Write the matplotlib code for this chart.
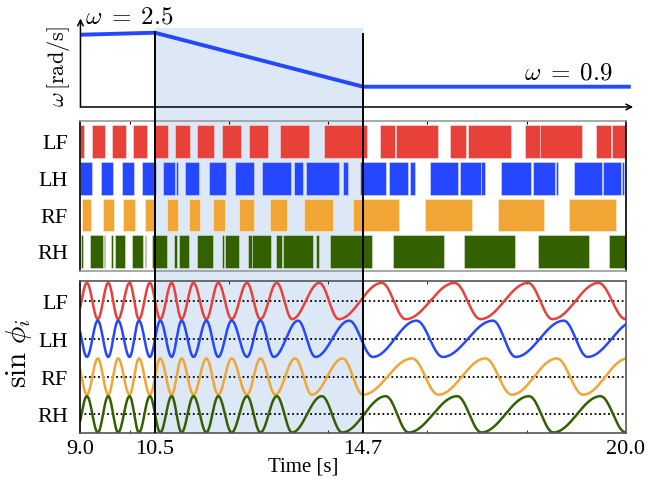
import numpy as np
import matplotlib
matplotlib.use("Agg")
import matplotlib.pyplot as plt

plt.rcParams['font.family'] = ['Liberation Serif', 'DejaVu Serif']
plt.rcParams['mathtext.fontset'] = 'cm'

# ---- data ----
omega_t = [9.0, 10.5, 14.7, 20.1]
omega_v = [2.44, 2.5, 0.9, 0.9]

legs = ['LF', 'LH', 'RF', 'RH']
colors = ['#e8413a', '#2447ff', '#f0a535', '#336100']

# stance intervals (start, end) in seconds
stance_LF = [(9.0, 9.08), (9.23, 9.49), (9.64, 9.92), (10.05, 10.34), (10.50, 10.76),
             (10.91, 11.21), (11.35, 11.70), (11.86, 12.24), (12.40, 12.79), (13.03, 13.62),
             (13.91, 14.78), (15.04, 15.34), (15.37, 16.21), (16.46, 16.78), (16.81, 17.68),
             (17.96, 18.26), (18.28, 19.11), (19.39, 19.70), (19.73, 20.0)]
stance_LH = [(9.0, 9.24), (9.41, 9.66), (9.83, 10.08), (10.25, 10.52), (10.67, 10.91),
             (10.93, 10.96), (11.11, 11.39), (11.60, 11.94), (12.11, 12.51), (12.66, 13.25),
             (13.30, 13.49), (13.54, 14.22), (14.30, 14.39), (14.63, 15.17), (15.23, 15.61),
             (15.64, 15.74), (16.05, 16.62), (16.65, 17.07), (17.08, 17.17), (17.49, 18.08),
             (18.12, 18.57), (18.59, 18.64), (18.96, 19.52), (19.54, 19.90), (19.93, 19.96)]
stance_RF = [(9.04, 9.21), (9.23, 9.24), (9.45, 9.68), (9.86, 10.10), (10.30, 10.51),
             (10.74, 10.96), (11.19, 11.41), (11.67, 11.91), (12.20, 12.51), (12.83, 13.17),
             (13.50, 14.09), (14.50, 15.43), (15.95, 16.89), (17.42, 18.36), (18.85, 19.81)]
stance_RH = [(9.01, 9.06), (9.19, 9.46), (9.47, 9.49), (9.62, 9.66), (9.70, 9.89),
             (10.03, 10.27), (10.31, 10.33), (10.44, 10.74), (10.89, 10.94), (10.98, 11.18),
             (11.35, 11.67), (11.85, 11.90), (11.92, 12.20), (12.37, 12.46), (12.47, 12.84),
             (12.95, 13.06), (13.08, 13.70), (13.76, 13.82), (14.03, 14.89), (15.31, 16.33),
             (16.73, 17.76), (18.22, 19.25), (19.66, 20.0)]
stances = [stance_LF, stance_LH, stance_RF, stance_RH]

# times of alternating extrema of sin(phi_i); first entry is a trough (-1) or peak (+1)
ext_LF = [8.91, 9.13, 9.35, 9.56, 9.76, 9.99, 10.18, 10.40, 10.61, 10.84, 11.04, 11.28,
          11.54, 11.78, 12.05, 12.36, 12.63, 12.96, 13.27, 13.82, 14.21, 15.08, 15.56,
          16.55, 17.07, 18.03, 18.52, 19.45, 20.0]
ext_LH = [8.91, 9.13, 9.35, 9.56, 9.76, 9.99, 10.18, 10.40, 10.61, 10.84, 11.04, 11.28,
          11.54, 11.78, 12.05, 12.36, 12.63, 12.90, 13.39, 13.74, 14.42, 14.90, 15.78,
          16.31, 17.32, 17.78, 18.75, 19.23, 20.2]
ext_RF = [8.91, 9.13, 9.35, 9.56, 9.76, 9.99, 10.18, 10.40, 10.61, 10.84, 11.04, 11.28,
          11.54, 11.78, 12.05, 12.36, 12.63, 12.93, 13.33, 13.67, 14.29, 14.70, 15.69,
          16.22, 17.17, 17.70, 18.61, 19.14, 20.04]
ext_RH = [8.91, 9.13, 9.35, 9.56, 9.76, 9.99, 10.18, 10.40, 10.61, 10.84, 11.04, 11.28,
          11.54, 11.78, 12.05, 12.36, 12.63, 12.96, 13.27, 13.87, 14.28, 15.16, 15.62,
          16.60, 17.09, 18.05, 18.54, 19.49, 20.0]
ext_first = [-1, 1, 1, -1]
extrema = [ext_LF, ext_LH, ext_RF, ext_RH]

tick_pos = [9.0, 10.5, 14.7, 20.0]
tick_lab = ['9.0', '10.5', '14.7', '20.0']
t_start, t_end = 10.5, 14.7

shade = '#dde8f7'


def wave(ext, first, amp, n=40):
    ts, ys = [], []
    v = first * amp
    for a, b in zip(ext[:-1], ext[1:]):
        s = np.linspace(0, 1, n)
        ts.append(a + (b - a) * s)
        ys.append(v - 2 * v * (1 - np.cos(np.pi * s)) / 2)
        v = -v
    return np.concatenate(ts), np.concatenate(ys)


fig = plt.figure(figsize=(6.65, 4.81), dpi=100)
L, W = 0.121, 0.82

# background shading and guide lines
bg = fig.add_axes([L, 0.0977, W, 0.842], zorder=0)
bg.set_xlim(9, 20)
bg.set_ylim(0, 1)
bg.axvspan(t_start, t_end, color=shade, lw=0)
bg.axis('off')

fg = fig.add_axes([L, 0.0977, W, 0.842], zorder=5)
fg.set_xlim(9, 20)
fg.set_ylim(0, 1)
fg.axvline(t_start, ymax=0.99, color='k', lw=1.4)
fg.axvline(t_end, ymax=0.985, color='k', lw=1.4)
fg.axis('off')

# ---- omega panel ----
ax0 = fig.add_axes([L, 0.7755, W, 0.1829], zorder=2)
ax0.patch.set_visible(False)
ax0.set_xlim(9, 20)
ax0.set_ylim(0.299, 2.906)
for s in ax0.spines.values():
    s.set_visible(False)
ax0.set_xticks([])
ax0.set_yticks([])
ax0.plot(omega_t, omega_v, color='#2447ff', lw=2.8, clip_on=False, solid_capstyle='butt')
ax0.annotate('', xy=(20.15, 0.299), xytext=(9.0, 0.299),
             arrowprops=dict(arrowstyle='->', lw=1.1, color='k', shrinkA=0, shrinkB=0),
             annotation_clip=False)
ax0.annotate('', xy=(9.0, 2.92), xytext=(9.0, 0.299),
             arrowprops=dict(arrowstyle='->', lw=1.1, color='k', shrinkA=0, shrinkB=0),
             annotation_clip=False)
ax0.text(9.09, 2.79, r'$\omega\;=\;2.5$', fontsize=18, va='baseline', ha='left')
ax0.text(19.74, 1.13, r'$\omega\;=\;0.9$', fontsize=18, va='baseline', ha='right')
ax0.text(-0.041, 0.466, r'$\omega\,[\mathrm{rad/s}]$', fontsize=16, rotation=90,
         transform=ax0.transAxes, ha='center', va='center')

# ---- gait panel ----
ax1 = fig.add_axes([L, 0.4335, W, 0.3119], zorder=2)
ax1.patch.set_visible(False)
ax1.set_xlim(9, 20)
ax1.set_ylim(-0.045, 4.042)
for i, (st, c) in enumerate(zip(stances, colors)):
    row = 3 - i
    ax1.broken_barh([(a, b - a) for a, b in st], (row + 0.05, 0.89),
                    facecolors=c, edgecolors=(1, 1, 1, 0.45), lw=0.6)
ax1.set_yticks([3.5, 2.5, 1.5, 0.5])
ax1.set_yticklabels(legs, fontsize=16)
ax1.tick_params(axis='y', length=0, pad=9)
ax1.set_xticks([10, 12, 14, 16, 18])
ax1.set_xticklabels([])
ax1.tick_params(axis='x', direction='in', length=2, top=True, bottom=False)
for k, s in ax1.spines.items():
    s.set_color('k' if k in ('left', 'right') else '#999999')
    s.set_linewidth(1.2)

# ---- phase panel ----
ax2 = fig.add_axes([L, 0.0977, W, 0.316], zorder=2)
ax2.patch.set_visible(False)
ax2.set_xlim(9, 20)
ax2.set_ylim(-0.495, 3.53)
for i, (ext, f, c) in enumerate(zip(extrema, ext_first, colors)):
    row = 3 - i
    ax2.axhline(row, color='k', ls=(0, (1, 1.5)), lw=1.3, zorder=1)
    t, y = wave(ext, f, 0.48)
    ax2.plot(t, y + row, color=c, lw=1.8, zorder=2)
ax2.set_yticks([3, 2, 1, 0])
ax2.set_yticklabels(legs, fontsize=16)
ax2.tick_params(axis='y', length=0, pad=9)
ax2.set_xticks(tick_pos)
ax2.set_xticklabels(tick_lab, fontsize=16)
ax2.tick_params(axis='x', which='major', length=0, pad=4)
ax2.set_xticks([10, 12, 14, 16, 18], minor=True)
ax2.tick_params(axis='x', which='minor', direction='in', length=2, top=True)
ax2.set_xlabel('Time [s]', fontsize=15, va='center')
ax2.xaxis.set_label_coords(0.408, -0.215)
ax2.set_ylabel(r'$\sin\,\phi_i$', fontsize=21, va='center')
ax2.yaxis.set_label_coords(-0.113, 0.53)
for k, s in ax2.spines.items():
    s.set_color('k' if k == 'left' else '#555555')
    s.set_linewidth(1.2)

fig.savefig('out.png', dpi=100)
